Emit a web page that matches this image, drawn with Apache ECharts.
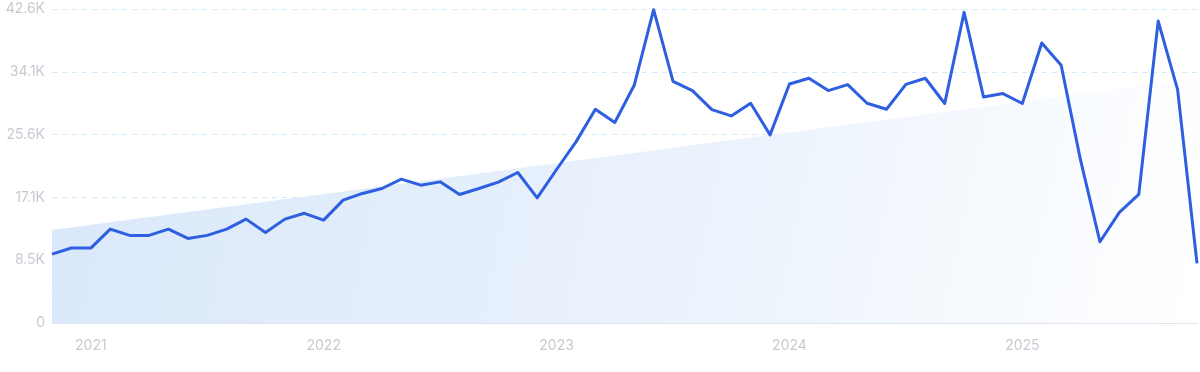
<!DOCTYPE html>
<html>
<head>
<meta charset="utf-8">
<script src="https://cdn.jsdelivr.net/npm/echarts@6/dist/echarts.min.js"></script>
<style>
  html, body { margin: 0; padding: 0; background: #ffffff; }
  #chart { width: 1200px; height: 372px; }
</style>
</head>
<body>
<div id="chart"></div>
<script>
// Monthly categories: Nov 2020 .. Oct 2025
const months = [
  '2020-11','2020-12',
  '2021-01','2021-02','2021-03','2021-04','2021-05','2021-06','2021-07','2021-08','2021-09','2021-10','2021-11','2021-12',
  '2022-01','2022-02','2022-03','2022-04','2022-05','2022-06','2022-07','2022-08','2022-09','2022-10','2022-11','2022-12',
  '2023-01','2023-02','2023-03','2023-04','2023-05','2023-06','2023-07','2023-08','2023-09','2023-10','2023-11','2023-12',
  '2024-01','2024-02','2024-03','2024-04','2024-05','2024-06','2024-07','2024-08','2024-09','2024-10','2024-11','2024-12',
  '2025-01','2025-02','2025-03','2025-04','2025-05','2025-06','2025-07','2025-08','2025-09','2025-10'
];

const searchVolume = [
  9360, 10180,
  10180, 12750, 11900, 11900, 12750, 11490, 11900, 12750, 14110, 12300, 14110, 14900,
  13970, 16690, 17600, 18270, 19540, 18720, 19170, 17460, 18270, 19130, 20440, 17000,
  20850, 24600, 29030, 27230, 32290, 42560, 32830, 31570, 28990, 28130, 29850, 25550,
  32470, 33240, 31570, 32380, 29850, 29030, 32420, 33240, 29810, 42190, 30700, 31160,
  29810, 38030, 35000, 22110, 11030, 15020, 17460, 41010, 31700, 8100
];

// Trend line end points (first and last month)
const trendStart = 12620;
const trendEnd = 33200;

const yTickValues = [0, 8530, 17060, 25590, 34120, 42650];
const yTickLabels = ['0', '8.5K', '17.1K', '25.6K', '34.1K', '42.6K'];

const trendData = months.map((m, i) =>
  i === 0 ? trendStart : (i === months.length - 1 ? trendEnd : null));

const chart = echarts.init(document.getElementById('chart'), null, { renderer: 'canvas' });

chart.setOption({
  animation: false,
  backgroundColor: '#ffffff',
  grid: { left: 52, right: 3, top: 9, bottom: 49, containLabel: false },
  xAxis: {
    type: 'category',
    data: months,
    boundaryGap: false,
    axisLine: { show: true, lineStyle: { color: '#dfe4f3', width: 1 } },
    axisTick: { show: false },
    splitLine: { show: false },
    axisLabel: {
      color: '#c8c9d2',
      fontFamily: 'Inter',
      fontSize: 14,
      margin: 16,
      interval: (index, value) => value.endsWith('-01'),
      formatter: (value) => value.slice(0, 4)
    }
  },
  yAxis: {
    type: 'value',
    min: 0,
    max: yTickValues[yTickValues.length - 1],
    interval: yTickValues[1],
    axisLine: { show: false },
    axisTick: { show: false },
    splitLine: {
      show: true,
      lineStyle: { color: '#cfeafb', type: [5, 5], width: 1 }
    },
    axisLabel: {
      color: '#c8c9d2',
      fontFamily: 'Inter',
      fontSize: 14,
      margin: 7,
      formatter: (value) => {
        const idx = yTickValues.indexOf(value);
        return idx >= 0 ? yTickLabels[idx] : '';
      }
    }
  },
  series: [
    {
      name: 'trend',
      type: 'line',
      data: trendData,
      connectNulls: true,
      symbol: 'none',
      silent: true,
      z: 1,
      lineStyle: { width: 0, opacity: 0 },
      areaStyle: {
        opacity: 1,
        color: {
          type: 'linear', x: 0, y: 0, x2: 1, y2: 1,
          colorStops: [
            { offset: 0, color: '#d9e8fa' },
            { offset: 0.55, color: '#eaf2fc' },
            { offset: 1, color: '#ffffff' }
          ]
        }
      }
    },
    {
      name: 'volume',
      type: 'line',
      data: searchVolume,
      symbol: 'none',
      z: 3,
      lineStyle: { color: '#2d5fe0', width: 3, join: 'round' }
    }
  ]
});
</script>
</body>
</html>
